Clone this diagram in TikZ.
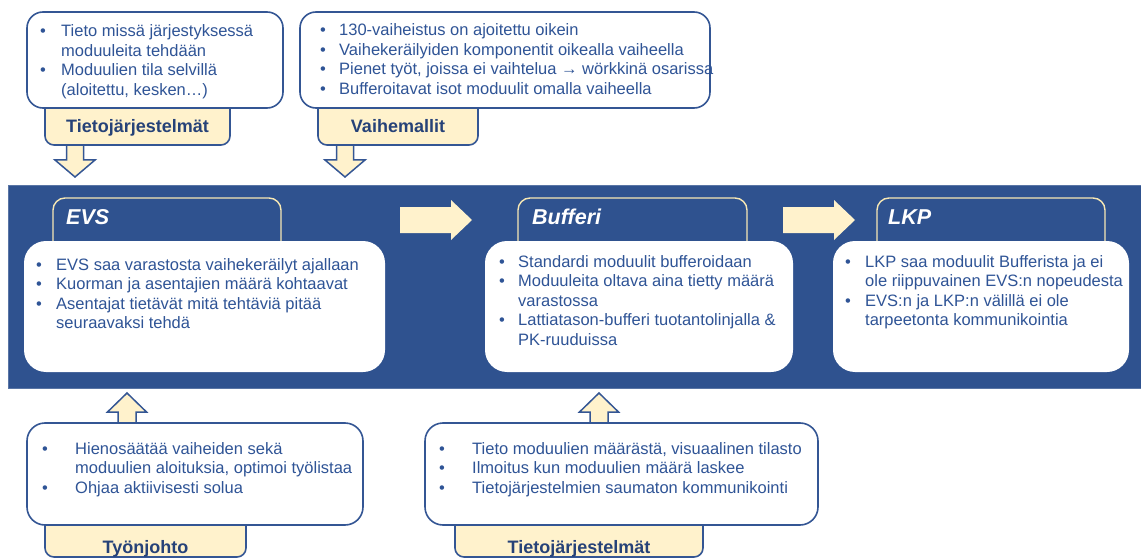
\documentclass[tikz,border=0pt]{standalone}
\usepackage{fontspec}
\setmainfont{Liberation Sans}
\definecolor{bandblue}{RGB}{47,82,143}
\definecolor{boxblue}{RGB}{52,86,148}
\definecolor{txtblue}{RGB}{47,84,150}
\definecolor{tabtxt}{RGB}{38,66,120}
\definecolor{paleyellow}{RGB}{255,242,204}
\definecolor{tabedge}{RGB}{247,232,180}
% bullet cell of a fixed width
\newcommand\bul[1]{\makebox[#1][l]{\textbullet}}
\newcommand\bodyfont{\fontsize{16.5}{19.5}\selectfont}
\begin{document}
\begin{tikzpicture}[x=1pt,y=-1pt,
  infobox/.style={draw=boxblue, line width=1.6pt, fill=white, rounded corners=16pt, inner sep=0pt},
  whitebox/.style={fill=white, rounded corners=22pt, inner sep=0pt},
  tabshape/.style={draw=boxblue, line width=1.6pt, fill=paleyellow, rounded corners=9pt},
  bandtab/.style={draw=tabedge, line width=1.4pt, fill=bandblue, rounded corners=12pt},
  blockarrow/.style={draw=boxblue, line width=1.5pt, fill=paleyellow, line join=miter},
  flowarrow/.style={fill=paleyellow},
  tablabel/.style={anchor=base, inner sep=0pt, text=tabtxt, font=\fontsize{18}{20}\selectfont\bfseries},
  stagelabel/.style={anchor=base west, inner sep=0pt, text=white, font=\fontsize{21.5}{24}\selectfont\bfseries\itshape},
  bullets/.style={anchor=base west, inner sep=0pt, text=txtblue, font=\bodyfont},
]
\useasboundingbox (0,0) rectangle (1141,559);

% ---------- upper inputs ----------
\draw[blockarrow] (66.5,144) -- (66.5,160) -- (55,160) -- (75,177) -- (95,160) -- (83.5,160) -- (83.5,144);
\draw[blockarrow] (336.5,144) -- (336.5,160) -- (325,160) -- (345,177) -- (365,160) -- (353.5,160) -- (353.5,144);
\draw[tabshape] (45,100) -- (45,145) -- (230,145) -- (230,100);
\draw[tabshape] (318,100) -- (318,145) -- (478,145) -- (478,100);
\node[infobox, minimum width=256pt, minimum height=96pt] (inTop1) at (155,60) {};
\node[infobox, minimum width=410pt, minimum height=96pt] (inTop2) at (505,60) {};
\node[tablabel] (tabTop1) at (137.5,133) {Tietojärjestelmät};
\node[tablabel] (tabTop2) at (398,133) {Vaihemallit};
\node[bullets] (txtTop1) at (40,37) {\begin{tabular}[t]{@{}l@{}l@{}}
\bul{21pt}&Tieto missä järjestyksessä\\
&moduuleita tehdään\\
\bul{21pt}&Moduulien tila selvillä\\
&(aloitettu, kesken…)
\end{tabular}};
\node[bullets] (txtTop2) at (320,36) {\begin{tabular}[t]{@{}l@{}l@{}}
\bul{19pt}&130-vaiheistus on ajoitettu oikein\\
\bul{19pt}&Vaihekeräilyiden komponentit oikealla vaiheella\\
\bul{19pt}&Pienet työt, joissa ei vaihtelua → wörkkinä osarissa\\
\bul{19pt}&Bufferoitavat isot moduulit omalla vaiheella
\end{tabular}};

% ---------- process band ----------
\node[fill=bandblue, draw=bandblue!80!white, line width=0.6pt, inner sep=0pt, minimum width=1135pt, minimum height=203pt, anchor=north west] (band) at (8,185) {};
\draw[bandtab] (53,248) -- (53,198) -- (281,198) -- (281,248);
\draw[bandtab] (518,248) -- (518,198) -- (747,198) -- (747,248);
\draw[bandtab] (877,248) -- (877,198) -- (1105,198) -- (1105,248);
\node[stagelabel] (lblEVS) at (66,224) {EVS};
\node[stagelabel] (lblBuf) at (532,224) {Bufferi};
\node[stagelabel] (lblLKP) at (888,224) {LKP};
\node[whitebox, minimum width=361pt, minimum height=131pt] (evs) at (204.5,306.5) {};
\node[whitebox, minimum width=308pt, minimum height=131pt] (buf) at (639,306.5) {};
\node[whitebox, minimum width=296pt, minimum height=131pt] (lkp) at (981,306.5) {};
\fill[flowarrow] (400,207) -- (451,207) -- (451,200) -- (472,220) -- (451,240) -- (451,233) -- (400,233) -- cycle;
\fill[flowarrow] (783,207) -- (834,207) -- (834,200) -- (855,220) -- (834,240) -- (834,233) -- (783,233) -- cycle;
\node[bullets] (txtEVS) at (36,270) {\begin{tabular}[t]{@{}l@{}l@{}}
\bul{20pt}&EVS saa varastosta vaihekeräilyt ajallaan\\
\bul{20pt}&Kuorman ja asentajien määrä kohtaavat\\
\bul{20pt}&Asentajat tietävät mitä tehtäviä pitää\\
&seuraavaksi tehdä
\end{tabular}};
\node[bullets] (txtBuf) at (499,267) {\begin{tabular}[t]{@{}l@{}l@{}}
\bul{19pt}&Standardi moduulit bufferoidaan\\
\bul{19pt}&Moduuleita oltava aina tietty määrä\\
&varastossa\\
\bul{19pt}&Lattiatason-bufferi tuotantolinjalla \&\\
&PK-ruuduissa
\end{tabular}};
\node[bullets] (txtLKP) at (845,267) {\begin{tabular}[t]{@{}l@{}l@{}}
\bul{20pt}&LKP saa moduulit Bufferista ja ei\\
&ole riippuvainen EVS:n nopeudesta\\
\bul{20pt}&EVS:n ja LKP:n välillä ei ole\\
&tarpeetonta kommunikointia
\end{tabular}};

% ---------- lower inputs ----------
\draw[blockarrow] (118,424) -- (118,412) -- (107.5,412) -- (127,393) -- (146.5,412) -- (136,412) -- (136,424);
\draw[blockarrow] (590,424) -- (590,412) -- (579.5,412) -- (599,393) -- (618.5,412) -- (608,412) -- (608,424);
\draw[tabshape] (45,515) -- (45,557) -- (246,557) -- (246,515);
\draw[tabshape] (455,515) -- (455,557) -- (703,557) -- (703,515);
\node[infobox, rounded corners=18pt, minimum width=336pt, minimum height=102pt] (inBot1) at (195,474) {};
\node[infobox, rounded corners=18pt, minimum width=393pt, minimum height=102pt] (inBot2) at (621.5,474) {};
\node[tablabel] (tabBot1) at (145.5,553) {Työnjohto};
\node[tablabel] (tabBot2) at (579,553) {Tietojärjestelmät};
\node[bullets] (txtBot1) at (42,454) {\begin{tabular}[t]{@{}l@{}l@{}}
\bul{33pt}&Hienosäätää vaiheiden sekä\\
&moduulien aloituksia, optimoi työlistaa\\
\bul{33pt}&Ohjaa aktiivisesti solua
\end{tabular}};
\node[bullets] (txtBot2) at (439,454) {\begin{tabular}[t]{@{}l@{}l@{}}
\bul{33pt}&Tieto moduulien määrästä, visuaalinen tilasto\\
\bul{33pt}&Ilmoitus kun moduulien määrä laskee\\
\bul{33pt}&Tietojärjestelmien saumaton kommunikointi
\end{tabular}};
\end{tikzpicture}
\end{document}
